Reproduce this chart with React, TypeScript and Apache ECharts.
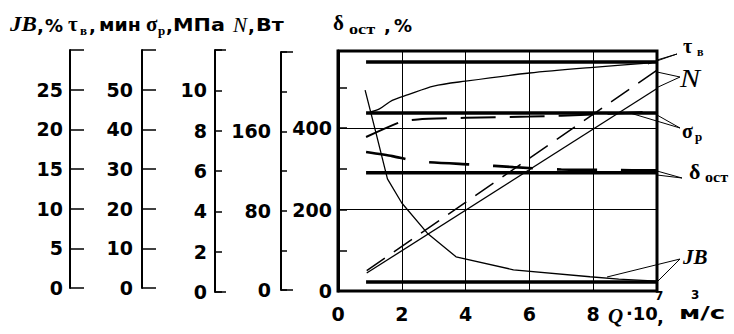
import React, { useEffect, useRef } from 'react';
import * as echarts from 'echarts';

// ---- data ----
const xMax = 10;
const mainMax = 589; // left plot axis (N / δ scale)
const jbMax = 30;
const tauMax = 60;
const sigmaMax = 12;
const nMax = 240;

const tauX = [1.0, 1.3, 1.7, 2.2, 3.0, 4.0, 6.0, 8.0, 10.0];
const tauY = [439, 447, 468, 482, 503, 515, 535, 549, 561];
const sigmaX = [0.88, 2.0, 2.5, 4.0, 6.0, 8.0, 9.0, 10.0];
const sigmaY = [378, 416, 421, 425, 428, 433, 437, 441];
const deltaX = [0.88, 1.7, 2.5, 4.3, 5.5, 7.0, 8.5, 10.0];
const deltaY = [341, 331, 318, 310, 304, 298, 297, 296];
const nSolidX = [0.9, 10.0];
const nSolidY = [44, 497];
const nDashX = [0.9, 10.0];
const nDashY = [50, 542];
const jbX = [0.85, 1.2, 1.55, 2.0, 2.8, 3.7, 5.5, 7.9, 8.8, 10.0];
const jbY = [493, 385, 275, 216, 142, 84, 52, 35, 29, 24];
const refStartX = 0.88;
const refLevels = { tau: 562, sigma: 437, delta: 290, jb: 22 };

const zip = (xs: number[], ys: number[]) => xs.map((x, i) => [x, ys[i]]);

const SANS = 'DejaVu Sans';
const SERIF = 'Liberation Serif';

function txt(text: string, x: number, y: number, font: string, extra: any = {}) {
  return {
    type: 'text',
    x,
    y,
    scaleX: extra.scaleX ?? 1,
    silent: true,
    style: {
      text,
      x: 0,
      y: 0,
      font,
      fill: '#000',
      align: extra.align ?? 'left',
      verticalAlign: 'middle',
      textAlign: extra.align ?? 'left',
      textVerticalAlign: 'middle',
    },
  };
}

function ln(x1: number, y1: number, x2: number, y2: number) {
  return {
    type: 'line',
    silent: true,
    shape: { x1, y1, x2, y2 },
    style: { stroke: '#000', lineWidth: 1 },
  };
}

const labelStyle = { color: '#000', fontFamily: SANS, fontWeight: 'bold', fontSize: 19 };
const B18 = `bold 18px "${SANS}"`;

export default function App() {
  const ref = useRef<HTMLDivElement>(null);
  useEffect(() => {
    if (!ref.current) return;
    const chart = echarts.init(ref.current, null, { renderer: 'svg' });

    const hiddenX = (gi: number) => ({ type: 'value', gridIndex: gi, show: false, min: 0, max: 1 });

    const sideAxis = (gi: number, max: number, interval: number, tickLen: number, fmt: (v: number) => string, margin: number, showLine = true) => ({
      type: 'value',
      gridIndex: gi,
      min: 0,
      max,
      interval,
      position: 'left',
      axisLine: { show: showLine, onZero: false, lineStyle: { color: '#000', width: 2 } },
      axisTick: { show: true, inside: true, length: tickLen, lineStyle: { color: '#000', width: 1.5 } },
      axisLabel: { show: true, ...labelStyle, margin, formatter: fmt },
      splitLine: { show: false },
    });

    const noLabel = () => '';

    const thick = (level: number) => ({
      type: 'line',
      xAxisIndex: 0,
      yAxisIndex: 0,
      data: [[refStartX, level], [xMax, level]],
      showSymbol: false,
      lineStyle: { color: '#000', width: 3.5 },
      z: 3,
    });

    const curve = (data: number[][], width: number, type: any = 'solid', smooth: any = false) => ({
      type: 'line',
      xAxisIndex: 0,
      yAxisIndex: 0,
      data,
      showSymbol: false,
      smooth,
      lineStyle: { color: '#000', width, type },
      z: 4,
    });

    const option: any = {
      animation: false,
      backgroundColor: '#fff',
      grid: [
        { left: 338, top: 51, width: 319, height: 240, show: true, borderColor: '#000', borderWidth: 3, backgroundColor: 'transparent' },
        { left: 70, top: 50, width: 1, height: 238 },
        { left: 142, top: 50, width: 1, height: 238 },
        { left: 215, top: 50, width: 1, height: 242 },
        { left: 281, top: 52, width: 1, height: 238 },
      ],
      xAxis: [
        {
          type: 'value',
          gridIndex: 0,
          min: 0,
          max: xMax,
          interval: 2,
          axisLine: { show: false },
          axisTick: { show: false },
          splitLine: { show: true, lineStyle: { color: '#000', width: 1 } },
          axisLabel: { ...labelStyle, margin: 13, formatter: (v: number) => (v === xMax ? '' : String(v)) },
        },
        hiddenX(1),
        hiddenX(2),
        hiddenX(3),
        hiddenX(4),
      ],
      yAxis: [
        {
          type: 'value',
          gridIndex: 0,
          min: 0,
          max: mainMax,
          interval: 100,
          axisLine: { show: true, onZero: false, lineStyle: { color: '#000', width: 3 } },
          axisTick: { show: true, inside: true, length: 9, lineStyle: { color: '#000', width: 1.5 } },
          axisLabel: { ...labelStyle, margin: 6, formatter: (v: number) => (v % 200 === 0 ? String(v) : '') },
          splitLine: { show: false },
        },
        {
          type: 'value',
          gridIndex: 0,
          min: 0,
          max: mainMax,
          interval: 200,
          axisLine: { show: false },
          axisTick: { show: false },
          axisLabel: { show: false },
          splitLine: { show: true, lineStyle: { color: '#000', width: 1 } },
        },
        sideAxis(1, jbMax, 5, 14, (v) => (v < jbMax ? String(v) : ''), 7),
        sideAxis(2, tauMax, 10, 14, (v) => (v < tauMax ? String(v) : ''), 9),
        sideAxis(3, sigmaMax, 2, 7, (v) => (v < sigmaMax ? String(v) : ''), 8),
        sideAxis(3, sigmaMax, sigmaMax, 11, noLabel, 8, false),
        sideAxis(4, nMax, 40, 6, (v) => (v === 0 || v === 80 || v === 160 ? String(v) : ''), 10),
        sideAxis(4, nMax, nMax, 12, noLabel, 10, false),
      ],
      series: [
        thick(refLevels.tau),
        thick(refLevels.sigma),
        thick(refLevels.delta),
        thick(refLevels.jb),
        curve(zip(tauX, tauY), 1.3, 'solid', 0.3),
        curve(zip(sigmaX, sigmaY), 2, [35, 14], 0.2),
        curve(zip(deltaX, deltaY), 2.6, [40, 24], 0.2),
        curve(zip(nSolidX, nSolidY), 1.3),
        curve(zip(nDashX, nDashY), 1.5, [22, 11]),
        curve(zip(jbX, jbY), 1.3, 'solid', false),
      ],
      graphic: [
        // axis titles
        txt('JB', 10, 25, `italic bold 20px "${SERIF}"`, { scaleX: 1.15 }),
        txt(',', 37, 25, B18),
        txt('%', 45, 25, B18),
        txt('τ', 68, 24, `bold 21px "${SERIF}"`),
        txt('в', 80, 30, `bold 13px "${SERIF}"`),
        txt(',', 89, 25, B18),
        txt('мин', 99, 25, B18, { scaleX: 1.05 }),
        txt('σ', 146, 24, `bold 21px "${SERIF}"`),
        txt('р', 158, 30, `bold 13px "${SERIF}"`),
        txt(',', 166, 25, B18),
        txt('МПа', 173, 25, B18, { scaleX: 1.15 }),
        txt('N', 233, 25, `italic 21px "${SERIF}"`),
        txt(',', 248, 25, B18),
        txt('Вт', 256, 25, B18, { scaleX: 1.15 }),
        txt('δ', 333, 23, `bold 21px "${SERIF}"`),
        txt('ост', 349, 30, `bold 14px "${SERIF}"`, { scaleX: 1.3 }),
        txt(',', 384, 25, B18),
        txt('%', 394, 25, B18),
        // curve labels on the right
        txt('τ', 683, 46, `bold 20px "${SERIF}"`),
        txt('в', 697, 52, `bold 12px "${SERIF}"`),
        txt('N', 680, 78, `italic 25px "${SERIF}"`, { scaleX: 1.2 }),
        txt('σ', 682, 131, `bold 20px "${SERIF}"`),
        txt('р', 695, 136, `bold 13px "${SERIF}"`),
        txt('δ', 689, 171, `bold 22px "${SERIF}"`),
        txt('ост', 705, 177, `bold 14px "${SERIF}"`, { scaleX: 1.15 }),
        txt('JB', 683, 257, `italic bold 21px "${SERIF}"`),
        // pointer lines
        ln(677, 54, 657, 60),
        ln(677, 54, 648, 64),
        ln(680, 77, 657, 72),
        ln(680, 77, 656, 88),
        ln(680, 128, 657, 115),
        ln(680, 128, 630, 113),
        ln(682, 178, 657, 171),
        ln(682, 178, 657, 175),
        ln(680, 259, 607, 277),
        ln(680, 259, 658, 281),
        // x axis name
        txt('Q', 608, 316, `italic bold 21px "${SERIF}"`),
        txt('·10', 626, 313, B18),
        txt('7', 655, 296, `bold 12px "${SANS}"`),
        txt(',', 657, 316, B18),
        txt('3', 691, 295, `bold 12px "${SANS}"`),
        txt('м/с', 679, 313, B18, { scaleX: 1.45 }),
      ],
    };

    chart.setOption(option);
    return () => chart.dispose();
  }, []);

  return (
    <div
      ref={ref}
      style={{ position: 'fixed', left: 0, top: 0, width: 734, height: 334, background: '#fff' }}
    />
  );
}
